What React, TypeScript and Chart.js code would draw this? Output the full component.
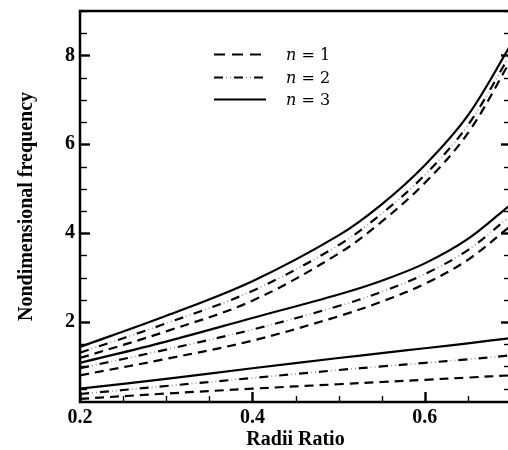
import React, { useEffect, useRef } from "react";
import { Chart, registerables } from "chart.js";

Chart.register(...registerables);

// Radii ratio samples along the horizontal axis
const RADII_RATIO = [0.2, 0.3, 0.4, 0.5, 0.55, 0.6, 0.65, 0.7];

// Lowest frequency branch
const LOW_N1 = [0.27, 0.39, 0.5, 0.6, 0.65, 0.7, 0.75, 0.8];
const LOW_N2 = [0.38, 0.56, 0.74, 0.92, 1.0, 1.08, 1.16, 1.25];
const LOW_N3 = [0.5, 0.72, 0.96, 1.19, 1.3, 1.41, 1.52, 1.64];

// Middle frequency branch
const MID_N1 = [0.8, 1.17, 1.58, 2.13, 2.46, 2.86, 3.4, 4.17];
const MID_N2 = [0.96, 1.38, 1.83, 2.36, 2.68, 3.08, 3.62, 4.4];
const MID_N3 = [1.08, 1.56, 2.09, 2.62, 2.93, 3.32, 3.87, 4.65];

// Highest frequency branch
const HIGH_N1 = [1.19, 1.79, 2.48, 3.54, 4.26, 5.13, 6.25, 7.9];
const HIGH_N2 = [1.31, 1.97, 2.7, 3.73, 4.44, 5.31, 6.43, 8.05];
const HIGH_N3 = [1.44, 2.14, 2.92, 3.95, 4.65, 5.53, 6.65, 8.25];

const SERIES_NAMES = ["n = 1", "n = 2", "n = 3"];

const X_TICKS = [0.2, 0.4, 0.6];
const Y_TICKS = [2, 4, 6, 8];
const X_RANGE = [0.2, 0.7];
const Y_RANGE = [0.2, 9];
const X_MINOR_STEP = 0.05;
const Y_MINOR_STEP = 0.5;

const SERIF = '"Liberation Serif", "Times New Roman", serif';

// line styles per mode number n
const DASH_N1 = [9, 6];
const DASH_N2 = [9, 11];
const DOTS_N2 = [1, 3, 1, 15];

const toPoints = (ys: number[]) => RADII_RATIO.map((x, i) => ({ x, y: ys[i] }));

function makeSets() {
  const sets: any[] = [];
  const groups = [
    [LOW_N1, LOW_N2, LOW_N3],
    [MID_N1, MID_N2, MID_N3],
    [HIGH_N1, HIGH_N2, HIGH_N3],
  ];
  const base = {
    fill: false,
    pointRadius: 0,
    tension: 0.35,
    borderCapStyle: "butt",
  };
  groups.forEach((g) => {
    sets.push({ ...base, label: SERIES_NAMES[0], data: toPoints(g[0]), borderColor: "#000", borderWidth: 2.2, borderDash: DASH_N1 });
    // n = 2: black dashes with two small grey dots in each gap
    sets.push({ ...base, label: SERIES_NAMES[1], data: toPoints(g[1]), borderColor: "#000", borderWidth: 2.2, borderDash: DASH_N2 });
    sets.push({ ...base, label: SERIES_NAMES[1] + " dots", data: toPoints(g[1]), borderColor: "#9a9a9a", borderWidth: 1.6, borderDash: DOTS_N2, borderDashOffset: 8 });
    sets.push({ ...base, label: SERIES_NAMES[2], data: toPoints(g[2]), borderColor: "#000", borderWidth: 2.2 });
  });
  return sets;
}

const near = (a: number, b: number) => Math.abs(a - b) < 1e-6;

// Closed frame with inward-pointing ticks on the left, bottom and right sides
const framePlugin = {
  id: "frame",
  afterDatasetsDraw(chart: any) {
    const { ctx, chartArea: a, scales } = chart;
    const xs = scales.x;
    const ys = scales.y;
    ctx.save();
    ctx.strokeStyle = "#000";
    ctx.lineCap = "butt";
    ctx.lineWidth = 2.5;
    ctx.strokeRect(a.left, a.top, a.right - a.left, a.bottom - a.top);

    const seg = (x1: number, y1: number, x2: number, y2: number, w: number) => {
      ctx.lineWidth = w;
      ctx.beginPath();
      ctx.moveTo(x1, y1);
      ctx.lineTo(x2, y2);
      ctx.stroke();
    };

    for (let k = 0; ; k++) {
      const v = X_RANGE[0] + k * X_MINOR_STEP;
      if (v > X_RANGE[1] + 1e-9) break;
      const px = Math.round(xs.getPixelForValue(v)) + 0.5;
      const major = X_TICKS.some((t) => near(t, v));
      seg(px, a.bottom, px, a.bottom - (major ? 10 : 6), major ? 2.4 : 1.4);
    }
    for (let k = 1; ; k++) {
      const v = k * Y_MINOR_STEP;
      if (v > Y_RANGE[1] + 1e-9) break;
      if (v < Y_RANGE[0]) continue;
      const py = Math.round(ys.getPixelForValue(v)) + 0.5;
      const major = Y_TICKS.some((t) => near(t, v));
      const len = major ? 10 : 7;
      const w = major ? 2.4 : 1.4;
      seg(a.left, py, a.left + len, py, w);
      seg(a.right, py, a.right - len, py, w);
    }
    ctx.restore();
  },
};

// Legend block in the upper-left part of the plot
const legendPlugin = {
  id: "modeLegend",
  afterDraw(chart: any) {
    const { ctx, chartArea: a } = chart;
    const x0 = a.left + 134;
    const x1 = a.left + 186;
    const tx = a.left + 206;
    const rows = [a.top + 43, a.top + 66, a.top + 88];
    ctx.save();
    rows.forEach((y, i) => {
      const draw = (color: string, w: number, dash: number[], off: number) => {
        ctx.strokeStyle = color;
        ctx.lineWidth = w;
        ctx.setLineDash(dash);
        ctx.lineDashOffset = off;
        ctx.beginPath();
        ctx.moveTo(x0, y + 0.5);
        ctx.lineTo(x1, y + 0.5);
        ctx.stroke();
      };
      if (i === 0) draw("#000", 2.2, [11, 7], 0);
      if (i === 1) {
        draw("#000", 2.2, DASH_N2, 0);
        draw("#9a9a9a", 1.6, DOTS_N2, 8);
      }
      if (i === 2) draw("#000", 2.2, [], 0);
      ctx.setLineDash([]);
      const name = SERIES_NAMES[i];
      const nChar = name.charAt(0);
      const rest = name.slice(1);
      ctx.fillStyle = "#000";
      ctx.textBaseline = "middle";
      ctx.textAlign = "left";
      ctx.font = 'italic 16px "DejaVu Serif", serif';
      ctx.fillText(nChar, tx, y + 2);
      const w = ctx.measureText(nChar).width;
      ctx.font = '16px "DejaVu Serif", serif';
      ctx.fillText(rest, tx + w, y + 2);
    });
    ctx.restore();
  },
};

export default function App() {
  const ref = useRef<HTMLCanvasElement | null>(null);

  useEffect(() => {
    if (!ref.current) return;
    const tickFont = { family: SERIF, weight: "bold" as const, size: 20 };
    const chart = new Chart(ref.current, {
      type: "line",
      data: { datasets: makeSets() },
      options: {
        animation: false,
        responsive: false,
        layout: { padding: { top: 11, left: 0, right: 9, bottom: 0 } },
        plugins: { legend: { display: false }, tooltip: { enabled: false }, title: { display: false } },
        scales: {
          x: {
            type: "linear",
            min: X_RANGE[0],
            max: X_RANGE[1],
            grid: { display: false, drawTicks: false },
            border: { display: false },
            afterFit: (s: any) => {
              s.height = 48;
              s.paddingLeft = 0;
              s.paddingRight = 0;
            },
            afterBuildTicks: (s: any) => {
              s.ticks = X_TICKS.map((v) => ({ value: v }));
            },
            ticks: {
              color: "#000",
              font: tickFont,
              padding: 4,
              maxRotation: 0,
              callback: (v: any) => Number(v).toFixed(1),
            },
            title: {
              display: true,
              text: "Radii Ratio",
              color: "#000",
              font: { family: SERIF, weight: "bold", size: 20, lineHeight: 1 },
              padding: { top: 0, bottom: 0 },
            },
          },
          y: {
            type: "linear",
            min: Y_RANGE[0],
            max: Y_RANGE[1],
            grid: { display: false, drawTicks: false },
            border: { display: false },
            afterFit: (s: any) => {
              s.width = 80;
              s.paddingTop = 0;
              s.paddingBottom = 0;
            },
            afterBuildTicks: (s: any) => {
              s.ticks = Y_TICKS.map((v) => ({ value: v }));
            },
            ticks: {
              color: "#000",
              font: tickFont,
              padding: 5,
              callback: (v: any) => String(v),
            },
            title: {
              display: true,
              text: "Nondimensional frequency",
              color: "#000",
              font: { family: SERIF, weight: "bold", size: 20, lineHeight: 1 },
              padding: { top: 17, bottom: 0 },
            },
          },
        },
      },
      plugins: [framePlugin, legendPlugin],
    } as any);
    return () => chart.destroy();
  }, []);

  return (
    <div style={{ position: "fixed", left: 0, top: 0, width: 508, height: 450, overflow: "hidden", background: "#fff" }}>
      <canvas ref={ref} width={520} height={450} style={{ display: "block" }} />
    </div>
  );
}
